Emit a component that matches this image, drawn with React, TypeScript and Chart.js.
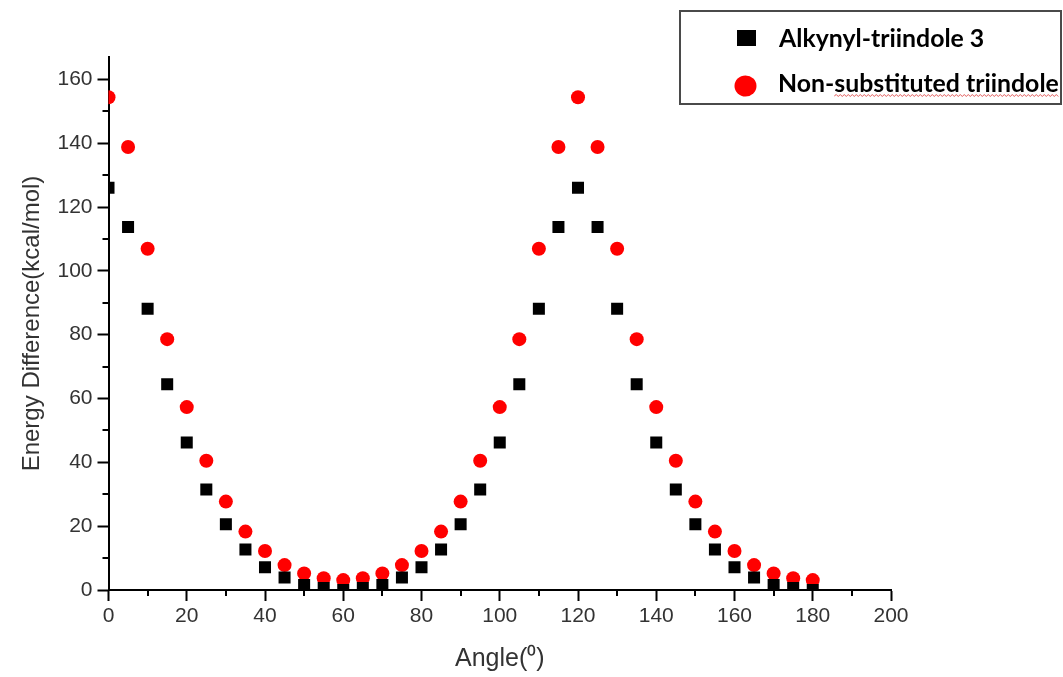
import React, { useEffect, useRef } from "react";
import { Chart, registerables } from "chart.js";

Chart.register(...registerables);

const angles = [0, 5, 10, 15, 20, 25, 30, 35, 40, 45, 50, 55, 60, 65, 70, 75, 80, 85, 90, 95, 100, 105, 110, 115, 120, 125, 130, 135, 140, 145, 150, 155, 160, 165, 170, 175, 180];

const alkynylTriindole = [126, 113.7, 88.1, 64.5, 46.2, 31.5, 20.6, 12.7, 7.1, 3.9, 1.6, 0.6, 0, 0.6, 1.6, 3.9, 7.1, 12.7, 20.6, 31.5, 46.2, 64.5, 88.1, 113.7, 126, 113.7, 88.1, 64.5, 46.2, 31.5, 20.6, 12.7, 7.1, 3.9, 1.6, 0.6, 0];

const nonSubstituted = [154.4, 138.8, 106.9, 78.6, 57.3, 40.5, 27.7, 18.3, 12.2, 7.8, 5.2, 3.7, 3.1, 3.7, 5.2, 7.8, 12.2, 18.3, 27.7, 40.5, 57.3, 78.6, 106.9, 138.8, 154.4, 138.8, 106.9, 78.6, 57.3, 40.5, 27.7, 18.3, 12.2, 7.8, 5.2, 3.7, 3.1];

const seriesLabels = ["Alkynyl-triindole 3", "Non-substituted triindole"];
const xTitle = "Angle(\u2070)";
const yTitle = "Energy Difference(kcal/mol)";
const xMinorTicks = [10, 30, 50, 70, 90, 110, 130, 150, 170, 190];
const yMinorTicks = [10, 30, 50, 70, 90, 110, 130, 150];

const minorTickPlugin = {
  id: "minorTicks",
  afterDraw(chart: any) {
    const ctx = chart.ctx;
    const xs = chart.scales.x;
    const ys = chart.scales.y;
    const area = chart.chartArea;
    ctx.save();
    ctx.strokeStyle = "#000";
    ctx.lineWidth = 2;
    ctx.beginPath();
    xMinorTicks.forEach((v) => {
      const px = Math.round(xs.getPixelForValue(v));
      ctx.moveTo(px, area.bottom);
      ctx.lineTo(px, area.bottom + 6);
    });
    yMinorTicks.forEach((v) => {
      const py = Math.round(ys.getPixelForValue(v));
      ctx.moveTo(area.left, py);
      ctx.lineTo(area.left - 6, py);
    });
    ctx.stroke();
    ctx.restore();
  },
};

const boxLegendPlugin = {
  id: "boxLegend",
  afterDraw(chart: any) {
    const ctx = chart.ctx;
    ctx.save();
    ctx.strokeStyle = "#4a4a4a";
    ctx.lineWidth = 2;
    ctx.strokeRect(680, 11, 381, 93);
    ctx.fillStyle = "#000";
    ctx.fillRect(737, 30, 19, 16);
    ctx.fillStyle = "#ff0000";
    ctx.beginPath();
    ctx.ellipse(745.5, 86, 11, 10.5, 0, 0, Math.PI * 2);
    ctx.fill();

    const family = 'Lato, "Open Sans", "Liberation Sans", sans-serif';
    ctx.font = `bold 20px ${family}`;
    const w = ctx.measureText(seriesLabels[1]).width;
    const size = (20 * 281) / w;
    ctx.font = `bold ${size.toFixed(2)}px ${family}`;
    ctx.fillStyle = "#000";
    ctx.textBaseline = "alphabetic";
    ctx.textAlign = "left";
    ctx.fillText(seriesLabels[0], 779, 47);
    ctx.fillText(seriesLabels[1], 778, 92);

    // spell-check wavy underline
    const start = 778 + ctx.measureText("Non-").width;
    const end = 778 + 281;
    ctx.strokeStyle = "rgba(220,60,60,0.85)";
    ctx.lineWidth = 1;
    ctx.beginPath();
    let up = true;
    ctx.moveTo(start, 96);
    for (let x = start + 2; x <= end; x += 2) {
      ctx.lineTo(x, up ? 94.5 : 96.5);
      up = !up;
    }
    ctx.stroke();
    ctx.restore();
  },
};

export default function App() {
  const canvasRef = useRef<HTMLCanvasElement | null>(null);

  useEffect(() => {
    if (!canvasRef.current) return;
    const tickFont = { family: '"Liberation Sans", Arial, sans-serif', size: 21 };
    const chart = new Chart(canvasRef.current, {
      type: "scatter",
      data: {
        datasets: [
          {
            label: seriesLabels[0],
            data: angles.map((a, i) => ({ x: a, y: alkynylTriindole[i] })),
            pointStyle: "rect",
            pointRadius: 8.5,
            pointHoverRadius: 8.5,
            pointBackgroundColor: "#000000",
            pointBorderWidth: 0,
            borderColor: "#000000",
            backgroundColor: "#000000",
            clip: 0,
          },
          {
            label: seriesLabels[1],
            data: angles.map((a, i) => ({ x: a, y: nonSubstituted[i] })),
            pointStyle: "circle",
            pointRadius: 7,
            pointHoverRadius: 7,
            pointBackgroundColor: "#ff0000",
            pointBorderWidth: 0,
            borderColor: "#ff0000",
            backgroundColor: "#ff0000",
            clip: 0,
          },
        ],
      },
      options: {
        animation: false,
        responsive: false,
        events: [],
        layout: { padding: { left: 0, right: 172, top: 57, bottom: 0 } },
        plugins: {
          legend: { display: false },
          tooltip: { enabled: false },
        },
        scales: {
          x: {
            type: "linear",
            min: 0,
            max: 200,
            afterFit: (s: any) => {
              s.height = 87;
            },
            ticks: {
              stepSize: 20,
              includeBounds: false,
              color: "#333",
              font: tickFont,
              padding: 3,
              maxRotation: 0,
            },
            grid: {
              drawOnChartArea: false,
              drawTicks: true,
              tickLength: 11,
              tickWidth: 2,
              tickColor: "#000",
              color: "#000",
            },
            border: { display: true, color: "#000", width: 2 },
            title: {
              display: true,
              text: xTitle,
              color: "#333",
              font: { family: '"Liberation Sans", Arial, sans-serif', size: 25 },
              padding: { top: 0, bottom: 3 },
            },
          },
          y: {
            type: "linear",
            min: 0,
            max: 167,
            afterFit: (s: any) => {
              s.width = 108.5;
            },
            ticks: {
              stepSize: 20,
              includeBounds: false,
              color: "#333",
              font: tickFont,
              padding: 5,
            },
            grid: {
              drawOnChartArea: false,
              drawTicks: true,
              tickLength: 11,
              tickWidth: 2,
              tickColor: "#000",
              color: "#000",
            },
            border: { display: true, color: "#000", width: 2 },
            title: {
              display: true,
              text: yTitle,
              color: "#333",
              font: { family: '"Liberation Sans", Arial, sans-serif', size: 24 },
              padding: { top: 18, bottom: 0 },
            },
          },
        },
      },
      plugins: [minorTickPlugin, boxLegendPlugin],
    });
    return () => chart.destroy();
  }, []);

  return (
    <div style={{ position: "fixed", left: 0, top: 0, width: 1063, height: 677, background: "#fff" }}>
      <canvas ref={canvasRef} width={1063} height={677} />
    </div>
  );
}
